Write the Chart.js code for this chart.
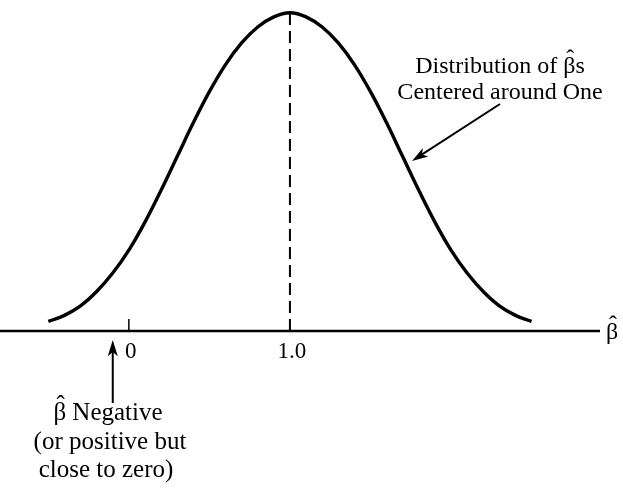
<!DOCTYPE html>
<html>
<head>
<meta charset="utf-8">
<script src="https://cdn.jsdelivr.net/npm/chart.js@4.4.0/dist/chart.umd.min.js"></script>
<style>
  html, body { margin: 0; padding: 0; background: #fff; }
  #wrap { width: 623px; height: 493px; }
</style>
</head>
<body>
<div id="wrap"><canvas id="dist" width="623" height="493"></canvas></div>
<script>
// sampling distribution of beta-hat, centred on the true value 1.0
const betaGrid = [-0.5, -0.4, -0.3, -0.2, -0.1, 0.0, 0.1, 0.2, 0.3, 0.4, 0.5, 0.6, 0.7, 0.8, 0.9, 1.0,
                  1.1, 1.2, 1.3, 1.4, 1.5, 1.6, 1.7, 1.8, 1.9, 2.0, 2.1, 2.2, 2.3, 2.4, 2.5];
const density = [0.030, 0.049, 0.079, 0.124, 0.182, 0.254, 0.342, 0.442, 0.548, 0.654, 0.752, 0.837, 0.905, 0.955, 0.987, 1.000,
                 0.987, 0.955, 0.905, 0.837, 0.752, 0.654, 0.548, 0.442, 0.342, 0.254, 0.182, 0.124, 0.079, 0.049, 0.030];

// dashed line at the mean
const meanX = [1.0, 1.0];
const meanY = [0, 1.00];

const tickValues = [0, 1.0];
const tickLabels = ['0', '1.0'];

const topNote = ['Distribution of ', 'β', 's'];
const topNote2 = 'Centered around One';
const bottomNote = ['β', ' Negative'];
const bottomNote2 = '(or positive but';
const bottomNote3 = 'close to zero)';

const FONT = '"Liberation Serif", "Times New Roman", serif';
const INK = '#000';

// writes a line made of pieces; pieces flagged with hat get a circumflex above
function hatLine(ctx, pieces, cx, y, size) {
  ctx.font = `${size}px ${FONT}`;
  const widths = pieces.map(p => ctx.measureText(p.t).width);
  const total = widths.reduce((a, b) => a + b, 0);
  let x = cx - total / 2;
  ctx.textAlign = 'left';
  ctx.textBaseline = 'alphabetic';
  pieces.forEach((p, i) => {
    ctx.fillText(p.t, x, y);
    if (p.hat) {
      ctx.save();
      ctx.textAlign = 'center';
      ctx.fillText('ˆ', x + widths[i] / 2 + 1, y - size * 0.3);
      ctx.restore();
    }
    x += widths[i];
  });
}

function arrow(ctx, x1, y1, x2, y2, head) {
  const a = Math.atan2(y2 - y1, x2 - x1);
  ctx.beginPath();
  ctx.moveTo(x1, y1);
  ctx.lineTo(x2 - Math.cos(a) * head * 0.6, y2 - Math.sin(a) * head * 0.6);
  ctx.stroke();
  ctx.beginPath();
  ctx.moveTo(x2, y2);
  ctx.lineTo(x2 - head * Math.cos(a - 0.3), y2 - head * Math.sin(a - 0.3));
  ctx.lineTo(x2 - head * 0.7 * Math.cos(a), y2 - head * 0.7 * Math.sin(a));
  ctx.lineTo(x2 - head * Math.cos(a + 0.3), y2 - head * Math.sin(a + 0.3));
  ctx.closePath();
  ctx.fill();
}

const axisPlugin = {
  id: 'axisPlugin',
  beforeDatasetsDraw(chart) {
    const { ctx, chartArea, scales: { x, y } } = chart;
    const y0 = y.getPixelForValue(0);
    ctx.save();
    ctx.strokeStyle = INK;
    ctx.lineWidth = 2.5;
    ctx.beginPath();
    ctx.moveTo(chartArea.left, y0);
    ctx.lineTo(chartArea.right, y0);
    ctx.stroke();
    // small tick at zero
    ctx.lineWidth = 1.5;
    const t0 = x.getPixelForValue(0);
    ctx.beginPath();
    ctx.moveTo(t0, y0 - 12);
    ctx.lineTo(t0, y0);
    ctx.stroke();
    ctx.restore();
  },
  afterDraw(chart) {
    const { ctx, chartArea, scales: { x, y } } = chart;
    const y0 = y.getPixelForValue(0);
    ctx.save();
    ctx.fillStyle = INK;
    ctx.strokeStyle = INK;
    ctx.font = `23px ${FONT}`;
    ctx.textAlign = 'center';
    ctx.textBaseline = 'alphabetic';
    tickValues.forEach((v, i) => {
      ctx.fillText(tickLabels[i], x.getPixelForValue(v) + 2, y0 + 27);
    });

    // axis name at the right end
    hatLine(ctx, [{ t: 'β', hat: true }], chartArea.right + 12, y0 + 8, 24);

    // note on the right with its arrow
    hatLine(ctx, [{ t: topNote[0] }, { t: topNote[1], hat: true }, { t: topNote[2] }], 500, 73, 24);
    ctx.font = `24px ${FONT}`;
    ctx.textAlign = 'center';
    ctx.fillText(topNote2, 500, 99);
    ctx.lineWidth = 2;
    arrow(ctx, 500, 104, 412, 161, 17);

    // note under the axis with its arrow
    const xa = x.getPixelForValue(-0.1);
    ctx.lineWidth = 2;
    arrow(ctx, xa, 403, xa, 340, 17);
    hatLine(ctx, [{ t: bottomNote[0], hat: true }, { t: bottomNote[1] }], 108, 420, 25);
    ctx.font = `25px ${FONT}`;
    ctx.textAlign = 'center';
    ctx.fillText(bottomNote2, 110, 449);
    ctx.fillText(bottomNote3, 106, 477);
    ctx.restore();
  }
};

new Chart(document.getElementById('dist').getContext('2d'), {
  type: 'line',
  data: {
    datasets: [
      {
        data: betaGrid.map((b, i) => ({ x: b, y: density[i] })),
        borderColor: INK,
        borderWidth: 3.4,
        pointRadius: 0,
        tension: 0.4,
        fill: false,
        clip: false
      },
      {
        data: meanX.map((b, i) => ({ x: b, y: meanY[i] })),
        borderColor: INK,
        borderWidth: 2,
        borderDash: [12, 6],
        pointRadius: 0,
        fill: false,
        clip: false
      }
    ]
  },
  options: {
    responsive: false,
    animation: false,
    events: [],
    layout: { padding: { left: 0, right: 23, top: 0, bottom: 162 } },
    plugins: { legend: { display: false }, tooltip: { enabled: false } },
    scales: {
      x: { type: 'linear', min: -0.8, max: 2.925, display: false },
      y: { type: 'linear', min: 0, max: 1.04, display: false }
    }
  },
  plugins: [axisPlugin]
});
</script>
</body>
</html>
